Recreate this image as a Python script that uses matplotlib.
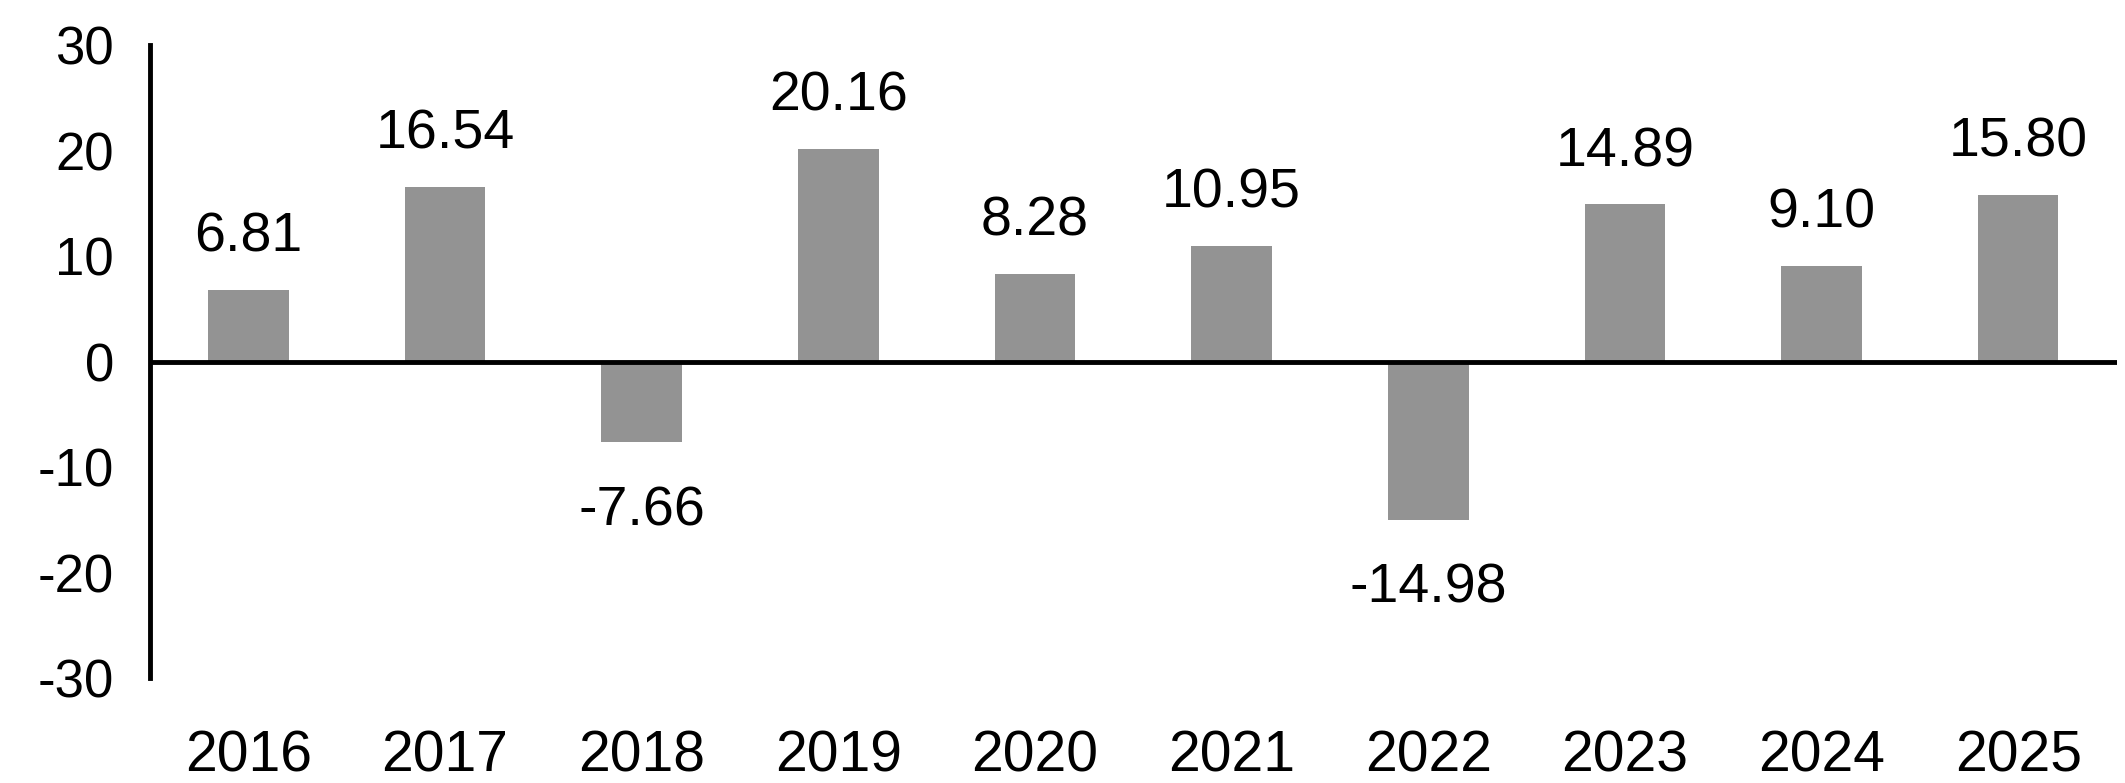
import matplotlib.pyplot as plt

# data
years = ['2016', '2017', '2018', '2019', '2020', '2021', '2022', '2023', '2024', '2025']
returns = [6.81, 16.54, -7.66, 20.16, 8.28, 10.95, -14.98, 14.89, 9.10, 15.80]
yticks = [-30, -20, -10, 0, 10, 20, 30]

plt.rcParams['font.family'] = ['Liberation Sans', 'DejaVu Sans']

fig = plt.figure(figsize=(21.25, 7.83), dpi=100)
ax = fig.add_axes([0.0706, 0.134, 0.9254, 0.8085])

x = list(range(len(years)))
ax.bar(x, returns, width=0.41, color='#939393', zorder=2)

# value labels above / below each bar
for xi, v in zip(x, returns):
    if v >= 0:
        ax.annotate(f'{v:.2f}', (xi, v), xytext=(0, 19), textcoords='offset points',
                    ha='center', va='bottom', fontsize=40)
    else:
        ax.annotate(f'{v:.2f}', (xi, v), xytext=(0, -31), textcoords='offset points',
                    ha='center', va='top', fontsize=40)

ax.axhline(0, color='black', linewidth=3.5, zorder=3)

ax.set_xlim(-0.5, len(years) - 0.5)
ax.set_ylim(-30, 30)
ax.set_yticks(yticks)
ax.set_yticklabels([str(t) for t in yticks])
ax.set_xticks(x)
ax.set_xticklabels(years)
ax.tick_params(axis='y', length=0, pad=26, labelsize=38)
ax.tick_params(axis='x', length=0, pad=37, labelsize=41)

for s in ['top', 'right', 'bottom']:
    ax.spines[s].set_visible(False)
ax.spines['left'].set_linewidth(3.5)

fig.savefig('out.png', dpi=100, facecolor='white')
